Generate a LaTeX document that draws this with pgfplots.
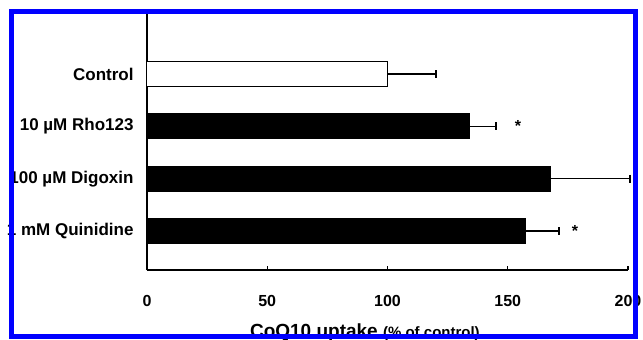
\documentclass[border=0pt]{standalone}
\usepackage{pgfplots}
\pgfplotsset{compat=1.18}
\usepackage{fontspec}
\setmainfont{Liberation Sans}
\begin{document}
\begin{tikzpicture}
\useasboundingbox (-73.5pt,-34.5pt) rectangle (248pt,135pt);
\begin{axis}[
  at={(0,0)}, anchor=south west,
  scale only axis, width=240.5pt, height=128pt,
  xmin=0, xmax=200, ymin=0.255, ymax=5.147,
  axis x line*=bottom, axis y line*=left,
  axis line style={line width=0.6pt, -},
  xtick={0,50,100,150,200},
  ytick={1,2,3,4},
  yticklabels={1 mM Quinidine, 100 µM Digoxin, 10 µM Rho123, Control},
  tick align=inside,
  major tick length=2pt,
  xtick style={line width=0.6pt, black},
  ytick style={draw=none},
  xticklabel style={font=\bfseries\fontsize{8}{9}\selectfont, yshift=-9pt},
  yticklabel style={font=\bfseries\fontsize{8.5}{10}\selectfont, xshift=-3.2pt},
  /pgf/number format/assume math mode=true,
  xlabel={CoQ10 uptake {\fontsize{7.5}{8}\selectfont (\% of control)}},
  xlabel style={at={(rel axis cs:0,0)}, anchor=base west, xshift=48pt, yshift=-33.5pt, font=\bfseries\fontsize{9.5}{11}\selectfont},
  clip=false,
]
\addplot[xbar, bar width=12.5pt, fill=white, draw=black, line width=0.5pt,
  error bars/.cd, x dir=plus, x explicit, error mark=|,
  error bar style={line width=0.6pt, black},
  error mark options={mark size=2pt, line width=0.8pt, black}]
  coordinates {(100,4) +- (20.2,0)};
\addplot[xbar, bar width=12.5pt, fill=black, draw=black, line width=0.5pt,
  error bars/.cd, x dir=plus, x explicit, error mark=|,
  error bar style={line width=0.6pt, black},
  error mark options={mark size=2pt, line width=0.8pt, black}]
  coordinates {(133.9,3) +- (11.1,0) (167.6,2) +- (33.2,0) (157.2,1) +- (14.1,0)};
\addplot[draw=none, mark=none, only marks, nodes near coords, point meta=explicit symbolic,
  nodes near coords style={anchor=center, font=\bfseries\fontsize{8}{9}\selectfont}]
  coordinates {(154.3,3) [*] (178,1) [*]};
\end{axis}
\draw[draw={rgb,255:red,0;green,0;blue,255}, line width=2.5pt] (-67.75pt,-33pt) rectangle (244.25pt,129.25pt);
\end{tikzpicture}
\end{document}
